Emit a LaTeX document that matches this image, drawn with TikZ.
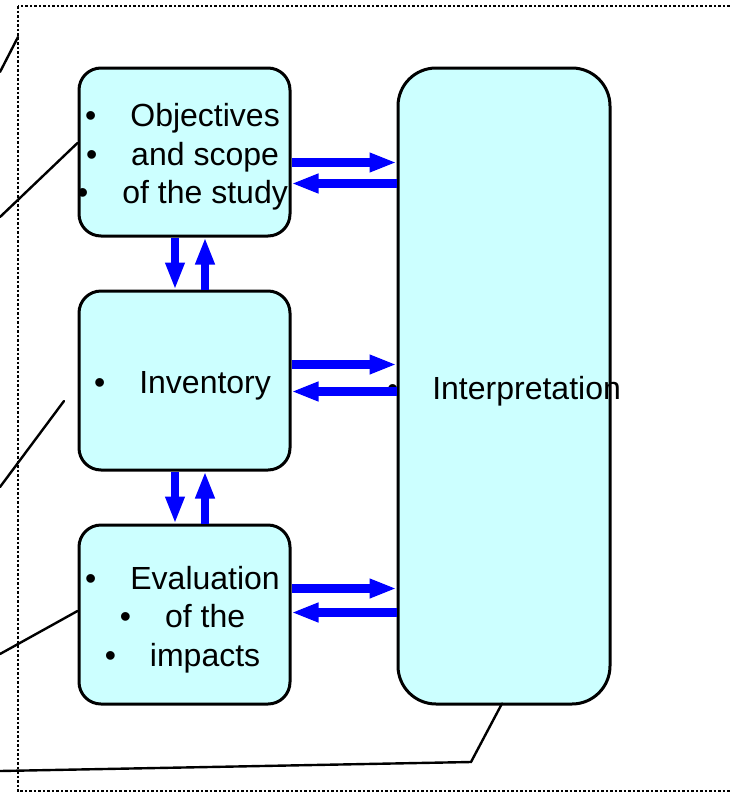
\documentclass[tikz,border=0pt]{standalone}
\usepackage{fontspec}
\setmainfont{Liberation Sans}
\usepackage{tikz}
\usetikzlibrary{arrows.meta,positioning}
\definecolor{boxcyan}{RGB}{204,255,255}
\newcommand{\bul}{\textbullet\hspace{34pt}}
\tikzset{
stage/.style={draw=black,line width=3pt,fill=boxcyan,rounded corners=22pt,inner sep=0pt},
stagetext/.style={align=center,inner sep=0pt,yshift=-5pt,font=\fontsize{32}{38.5}\selectfont},
flow/.style={draw=blue,line width=8.5pt,-{Triangle[length=27pt,width=18pt]}},
lead/.style={line width=2.4pt,line cap=round}
}
\begin{document}
\begin{tikzpicture}[x=1pt,y=-1pt]
\useasboundingbox (0,0) rectangle (731,793);
\clip (0,0) rectangle (731,793);
\draw[line width=2.5pt,dash pattern=on 2.5pt off 2pt] (18,6) rectangle (770,791);
% the four stages
\node[stage,minimum width=211pt,minimum height=168pt] (obj) at (184.5,152) {};
\node[stage,minimum width=211pt,minimum height=179pt] (inv) at (184.5,380.5) {};
\node[stage,minimum width=211pt,minimum height=179pt] (eva) at (184.5,614.5) {};
\node[stage,rounded corners=38pt,minimum width=212pt,minimum height=636pt] (interp) at (504,386) {};
\node[stagetext,xshift=-2pt] (objtext) at (obj.center) {\bul Objectives\\\bul and scope\\\bul of the study};
\node[stagetext,xshift=-2pt] (invtext) at (inv.center) {\bul Inventory};
\node[stagetext,xshift=-2pt] (evatext) at (eva.center) {\bul Evaluation\\\bul of the\\\bul impacts};
\node[stagetext] (interptext) at (interp.center) {\bul Interpretation};
% arrows to and from the interpretation
\foreach \b/\r/\l in {obj/-10.5/-31.5,inv/16/-11,eva/26/2}
{
\draw[flow] ([yshift=\r pt]\b.east) -- ([yshift=\r pt]\b.east -| interp.west);
\draw[flow] ([yshift=\l pt]\b.east -| interp.west) -- ([yshift=\l pt]\b.east);
}
\foreach \a/\b in {obj/inv,inv/eva}
{
\draw[flow] ([xshift=-9.5pt]\a.south) -- ([xshift=-9.5pt]\b.north);
\draw[flow] ([xshift=20.5pt]\b.north) -- ([xshift=20.5pt]\a.south);
}
% leader lines coming in from the left
\coordinate (l1) at (0,72);
\coordinate (l1e) at (18,37);
\coordinate (l2) at (0,217);
\coordinate (l3) at (0,487);
\coordinate (l3e) at (64,401);
\coordinate (l4) at (0,654);
\coordinate (l5) at (0,771);
\coordinate (l5k) at (471,762);
\draw[lead] (l1) -- (l1e);
\draw[lead] (l2) -- ([yshift=9pt]obj.west);
\draw[lead] (l3) -- (l3e);
\draw[lead] (l4) -- ([yshift=3.5pt]eva.west);
\draw[lead] (l5) -- (l5k) -- ([xshift=-2pt,yshift=2pt]interp.south);
\end{tikzpicture}
\end{document}
